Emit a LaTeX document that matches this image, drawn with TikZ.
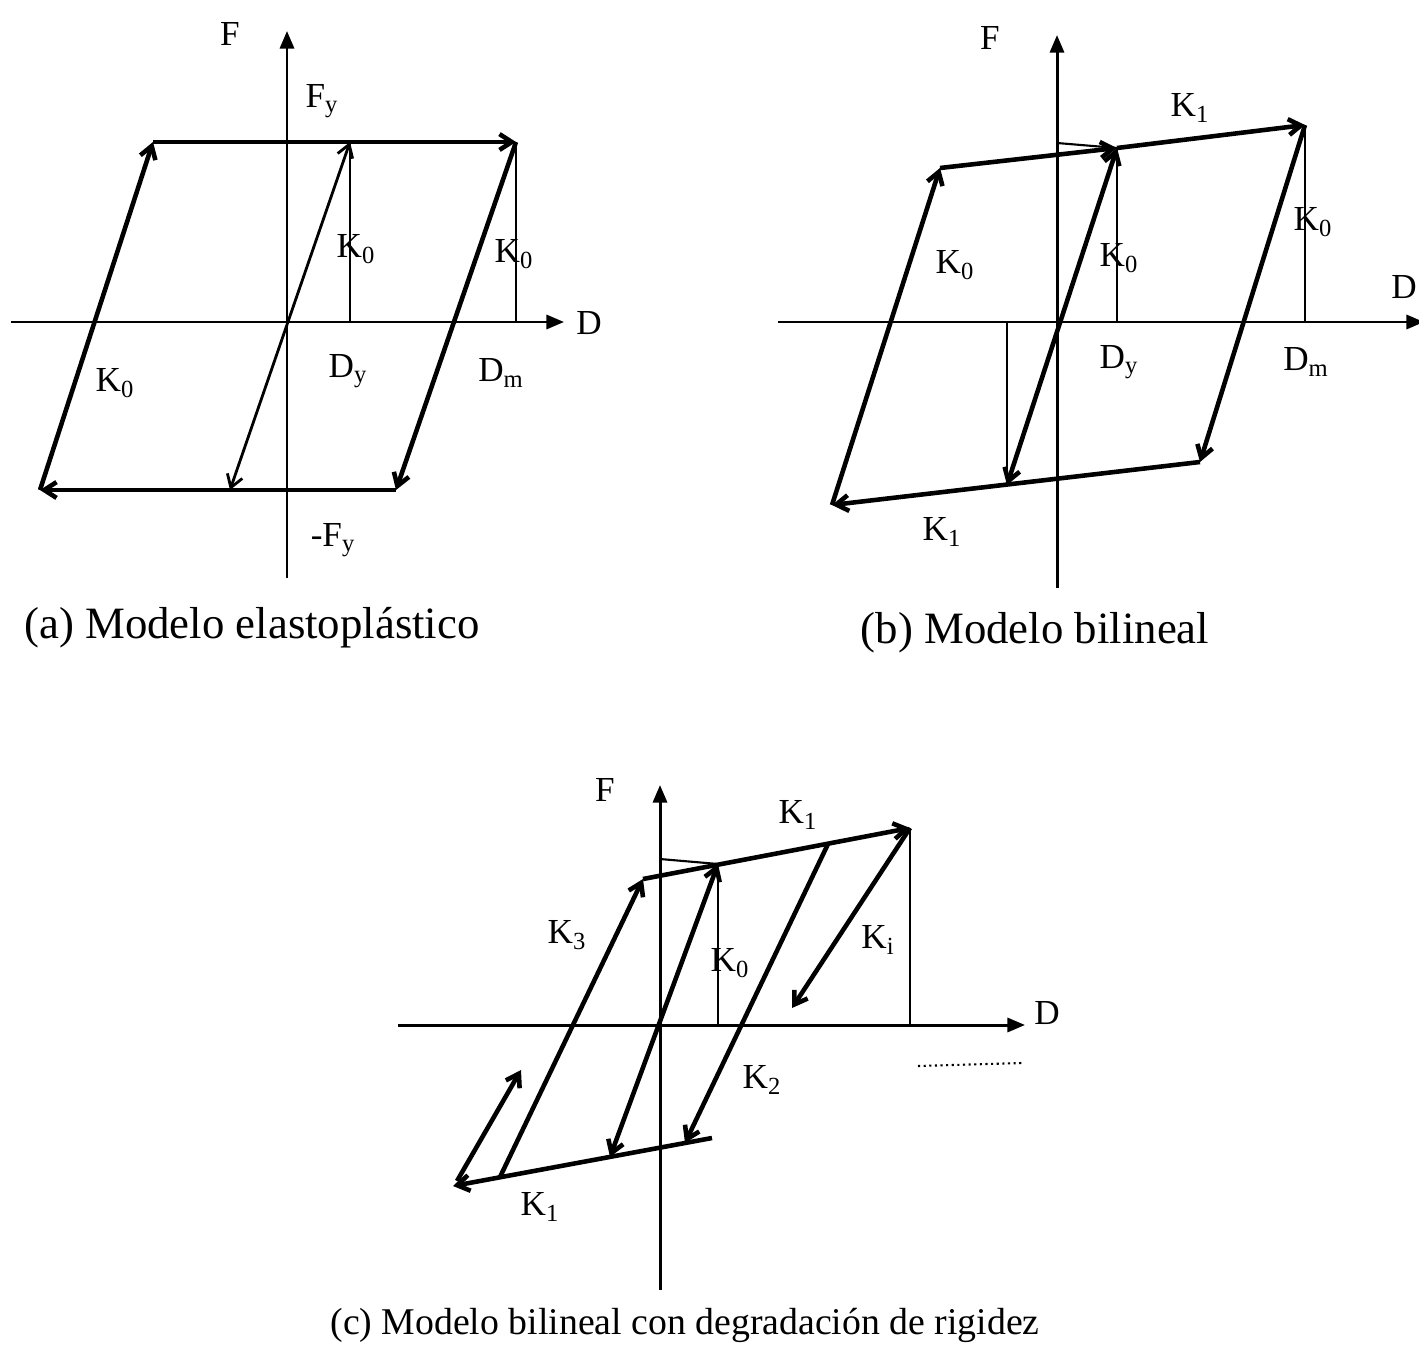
\documentclass[tikz,border=0pt]{standalone}
\usepackage{fontspec}
\setmainfont{Liberation Serif}
\usetikzlibrary{arrows.meta}
\tikzset{
  axis/.style={line width=1.7pt,-{Triangle[length=10pt,width=8pt]}},
  branch/.style={line width=2.6pt,-{Straight Barb[length=7pt,width=9pt]}},
  twoway/.style={line width=2.6pt,{Straight Barb[length=7pt,width=9pt]}-{Straight Barb[length=7pt,width=9pt]}},
  guide/.style={line width=1.2pt},
  lbl/.style={font=\fontsize{20}{23}\selectfont,inner sep=1pt},
  capt/.style={font=\fontsize{25.5}{29}\selectfont,inner sep=0pt}
}
\begin{document}
\begin{tikzpicture}[x=0.02cm,y=-0.02cm]
  \useasboundingbox (0,0) rectangle (1419,1358);
  % (a) elastoplastico
  \coordinate (a-o) at (287,322);
  \coordinate (a-bot) at (287,578);
  \coordinate (a-top) at (287,31);
  \coordinate (a-left) at (11,322);
  \coordinate (a-right) at (564,322);
  \coordinate (a-tl) at (153,142);
  \coordinate (a-tr) at (516,142);
  \coordinate (a-bl) at (40,490);
  \coordinate (a-br) at (396,490);
  \coordinate (a-ty) at (350,142);
  \coordinate (a-by) at (230,490);
  \draw[axis] (a-bot) -- (a-top);
  \draw[axis] (a-left) -- (a-right);
  \draw[branch] (a-br) -- (a-bl);
  \draw[branch] (a-bl) -- (a-tl);
  \draw[branch] (a-tl) -- (a-tr);
  \draw[branch] (a-tr) -- (a-br);
  \draw[twoway,line width=1.6pt] (a-by) -- (a-ty);
  \draw[guide] (a-ty) -- (a-ty |- a-o);
  \draw[guide] (a-tr) -- (a-tr |- a-o);
  \node[lbl] (a-F) at (230,34) {F};
  \node[lbl] (a-D) at (589,323) {D};
  \node[lbl] (a-Fy) at (322,101) {F\textsubscript{y}};
  \node[lbl] (a-K1) at (356,249) {K\textsubscript{0}};
  \node[lbl] (a-K2) at (514,254) {K\textsubscript{0}};
  \node[lbl] (a-K3) at (115,383) {K\textsubscript{0}};
  \node[lbl] (a-Dy) at (348,371) {D\textsubscript{y}};
  \node[lbl] (a-Dm) at (501,373) {D\textsubscript{m}};
  \node[lbl] (a-mFy) at (333,540) {-F\textsubscript{y}};
  \node[capt] (a-cap) at (252,628) {(a) Modelo elastoplástico};

  % (b) bilineal
  \coordinate (b-o) at (1057,322);
  \coordinate (b-bot) at (1057,588);
  \coordinate (b-top) at (1057,35);
  \coordinate (b-left) at (778,322);
  \coordinate (b-right) at (1424,322);
  \coordinate (b-tl) at (940,168);
  \coordinate (b-ty) at (1117,148);
  \coordinate (b-tr) at (1305,125);
  \coordinate (b-bl) at (832,505);
  \coordinate (b-bm) at (1007,485);
  \coordinate (b-br) at (1200,462);
  \coordinate (b-fy) at (1057,143);
  \draw[axis] (b-bot) -- (b-top);
  \draw[axis] (b-left) -- (b-right);
  \draw[branch] (b-br) -- (b-bl);
  \draw[branch] (b-bl) -- (b-tl);
  \draw[branch] (b-tl) -- (b-ty);
  \draw[branch] (b-ty) -- (b-tr);
  \draw[branch] (b-tr) -- (b-br);
  \draw[twoway] (b-bm) -- (b-ty);
  \draw[guide] (b-fy) -- (b-ty);
  \draw[guide] (b-bm |- b-o) -- (b-bm);
  \draw[guide] (b-ty) -- (b-ty |- b-o);
  \draw[guide] (b-tr) -- (b-tr |- b-o);
  \node[lbl] (b-F) at (990,38) {F};
  \node[lbl] (b-D) at (1404,287) {D};
  \node[lbl] (b-K1) at (1190,108) {K\textsubscript{1}};
  \node[lbl] (b-K2) at (1313,222) {K\textsubscript{0}};
  \node[lbl] (b-K3) at (1119,258) {K\textsubscript{0}};
  \node[lbl] (b-K4) at (955,265) {K\textsubscript{0}};
  \node[lbl] (b-Dy) at (1119,362) {D\textsubscript{y}};
  \node[lbl] (b-Dm) at (1306,362) {D\textsubscript{m}};
  \node[lbl] (b-K5) at (942,532) {K\textsubscript{1}};
  \node[capt] (b-cap) at (1035,633) {(b) Modelo bilineal};

  % (c) bilineal con degradacion
  \coordinate (c-o) at (660,1025);
  \coordinate (c-bot) at (660,1290);
  \coordinate (c-top) at (660,785);
  \coordinate (c-left) at (398,1025);
  \coordinate (c-right) at (1025,1025);
  \coordinate (c-k3t) at (643,879);
  \coordinate (c-y) at (718,864);
  \coordinate (c-m) at (828,844);
  \coordinate (c-tr) at (910,828);
  \coordinate (c-ki) at (792,1008);
  \coordinate (c-bl) at (453,1186);
  \coordinate (c-br) at (712,1138);
  \coordinate (c-k2b) at (685,1143);
  \coordinate (c-eb) at (610,1157);
  \coordinate (c-k3b) at (500,1177);
  \coordinate (c-sa) at (457,1181);
  \coordinate (c-sb) at (521,1070);
  \coordinate (c-fy) at (660,859);
  \coordinate (c-d1) at (918,1066);
  \coordinate (c-d2) at (1022,1063);
  \draw[axis] (c-bot) -- (c-top);
  \draw[axis] (c-left) -- (c-right);
  \draw[branch] (c-br) -- (c-bl);
  \draw[branch] (c-k3b) -- (c-k3t);
  \draw[branch] (c-k3t) -- (c-tr);
  \draw[branch] (c-tr) -- (c-ki);
  \draw[branch] (c-m) -- (c-k2b);
  \draw[branch] (c-sa) -- (c-sb);
  \draw[twoway] (c-eb) -- (c-y);
  \draw[guide] (c-fy) -- (c-y);
  \draw[guide] (c-y) -- (c-y |- c-o);
  \draw[guide] (c-tr) -- (c-tr |- c-o);
  \draw[line width=1.2pt,dotted] (c-d1) -- (c-d2);
  \node[lbl] (c-F) at (605,790) {F};
  \node[lbl] (c-D) at (1047,1013) {D};
  \node[lbl] (c-K1) at (798,815) {K\textsubscript{1}};
  \node[lbl] (c-K3) at (567,935) {K\textsubscript{3}};
  \node[lbl] (c-K0) at (730,963) {K\textsubscript{0}};
  \node[lbl] (c-Ki) at (878,940) {K\textsubscript{i}};
  \node[lbl] (c-K2) at (762,1080) {K\textsubscript{2}};
  \node[lbl] (c-K5) at (540,1207) {K\textsubscript{1}};
  \node[capt,font=\fontsize{21.5}{25}\selectfont] (c-cap) at (685,1325) {(c) Modelo bilineal con degradación de rigidez};
\end{tikzpicture}
\end{document}
